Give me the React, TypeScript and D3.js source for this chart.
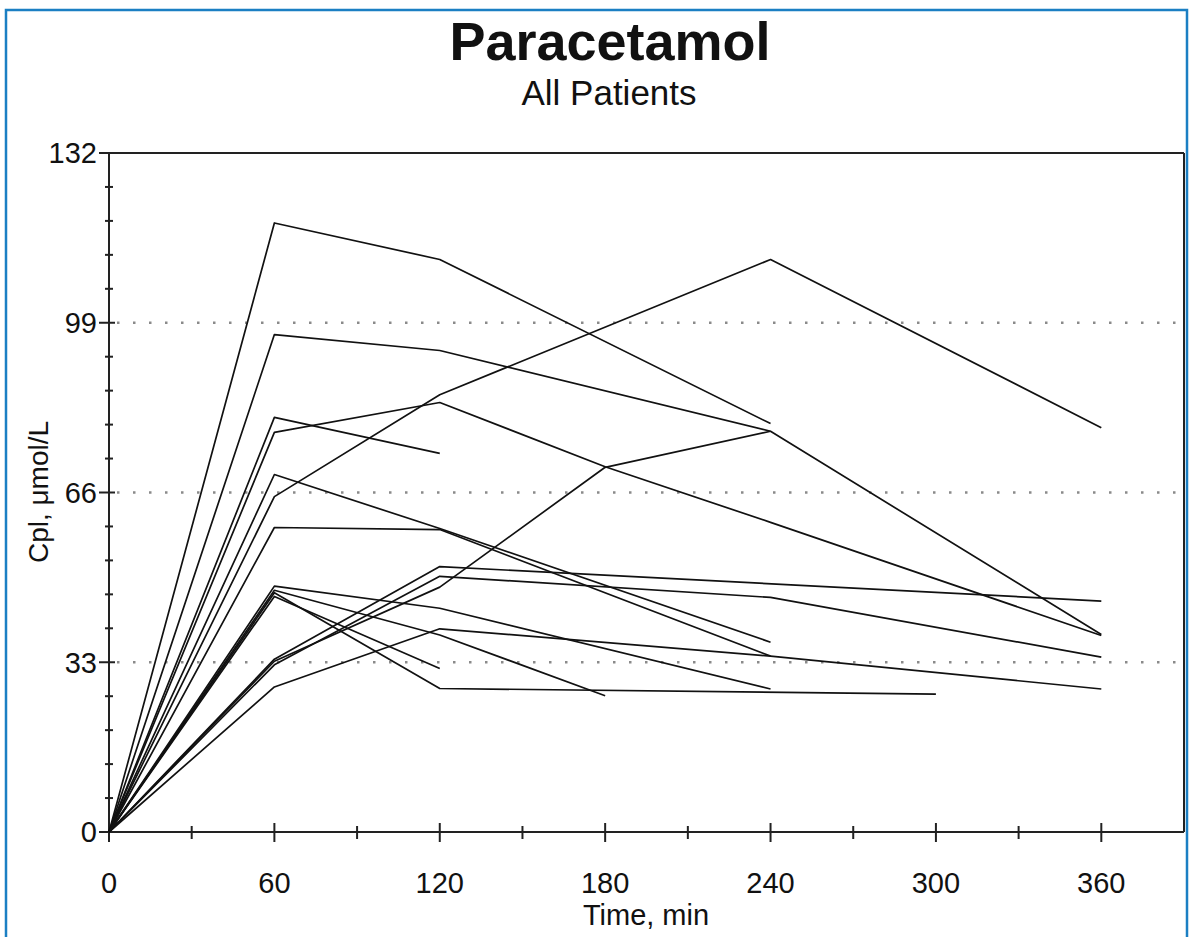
import React from "react";
import * as d3 from "d3";

const sampleTimes = [0, 60, 120, 180, 240, 300, 360];

// concentration per patient at sampleTimes (null = no sample)
const patientA = [0, 118.4, 111.3, null, 79.4, null, null];
const patientB = [0, 96.7, 93.6, null, 77.9, null, 38.4];
const patientC = [0, 80.6, 73.6, null, null, null, null];
const patientD = [0, 77.7, 83.5, 71.0, 60.2, null, 38.2];
const patientE = [0, 69.5, 59.0, null, 36.9, null, null];
const patientF = [0, 65.2, 85.0, null, 111.3, null, 78.6];
const patientG = [0, 59.2, 58.8, null, 34.2, null, null];
const patientH = [0, 33.6, 51.6, null, null, null, 44.9];
const patientI = [0, 32.5, 49.7, null, 45.6, null, 34.0];
const patientJ = [0, 33.2, 47.6, 70.9, 77.9, null, null];
const patientK = [0, 28.2, 39.5, null, 34.2, null, 27.8];
const patientL = [0, 45.8, 31.8, null, null, null, null];
const patientM = [0, 46.5, 27.9, null, null, 26.8, null];
const patientN = [0, 47.0, 38.3, 26.5, null, null, null];
const patientO = [0, 47.8, 43.5, null, 27.8, null, null];

const patients = [
  patientA, patientB, patientC, patientD, patientE, patientF, patientG, patientH,
  patientI, patientJ, patientK, patientL, patientM, patientN, patientO,
];

const xMajorTicks = [0, 60, 120, 180, 240, 300, 360];
const xMinorTicks = [30, 90, 150, 210, 270, 330];
const yMajorTicks = [0, 33, 66, 99, 132];
const yGridTicks = [33, 66, 99];

const titleText = "Paracetamol";
const subtitleText = "All Patients";
const xLabel = "Time, min";
const yLabel = "Cpl, \u03BCmol/L";

export default function App() {
  const W = 1189, H = 937;
  const left = 109, right = 1184, top = 153, bottom = 832;
  const x = d3.scaleLinear().domain([0, 390]).range([left, right]);
  const y = d3.scaleLinear().domain([0, 132]).range([bottom, top]);

  const yMinorTicks: number[] = [];
  for (let k = 1; k < 20; k++) if (k % 5 !== 0) yMinorTicks.push(+(k * 6.6).toFixed(1));

  const line = d3
    .line<[number, number]>()
    .x((d) => x(d[0]))
    .y((d) => y(d[1]));

  const font = "'Liberation Sans', Arial, Helvetica, sans-serif";

  return (
    <svg width={W} height={H} style={{ position: "absolute", left: 0, top: 0, background: "#fff" }} fontFamily={font}>
      <rect x={6} y={10} width={1181} height={945} fill="none" stroke="#1b7fc3" strokeWidth={2.5} />
      <text x={610} y={60} textAnchor="middle" fontSize={54} fontWeight="bold" fill="#111">{titleText}</text>
      <text x={609} y={105} textAnchor="middle" fontSize={35} fill="#111">{subtitleText}</text>

      {/* dotted grid */}
      {yGridTicks.map((t) => (
        <line key={"g" + t} x1={left + 8} x2={right} y1={y(t)} y2={y(t)} stroke="#8a8a8a" strokeWidth={2.5} strokeDasharray="2.5 13.5" />
      ))}

      {/* frame top and right */}
      <line x1={left} x2={right} y1={top} y2={top} stroke="#222" strokeWidth={2} />
      <line x1={right} x2={right} y1={top} y2={bottom} stroke="#222" strokeWidth={2} />

      {/* axes */}
      <line x1={left} x2={left} y1={top} y2={bottom} stroke="#222" strokeWidth={2} />
      <line x1={left} x2={right} y1={bottom} y2={bottom} stroke="#222" strokeWidth={2} />

      {yMajorTicks.map((t) => (
        <g key={"ym" + t}>
          <line x1={left - 10} x2={left + 6} y1={y(t)} y2={y(t)} stroke="#222" strokeWidth={2} />
          <text x={left - 12} y={y(t)} dy="0.36em" textAnchor="end" fontSize={29} fill="#111">{t}</text>
        </g>
      ))}
      {yMinorTicks.map((t) => (
        <line key={"yn" + t} x1={left - 4} x2={left + 4} y1={y(t)} y2={y(t)} stroke="#222" strokeWidth={2} />
      ))}
      {xMajorTicks.map((t) => (
        <g key={"xm" + t}>
          <line x1={x(t)} x2={x(t)} y1={bottom - 9} y2={bottom + 10} stroke="#222" strokeWidth={2} />
          <text x={x(t)} y={893} textAnchor="middle" fontSize={29} fill="#111">{t}</text>
        </g>
      ))}
      {xMinorTicks.map((t) => (
        <line key={"xn" + t} x1={x(t)} x2={x(t)} y1={bottom - 6} y2={bottom + 7} stroke="#222" strokeWidth={2} />
      ))}

      <text x={646} y={925} textAnchor="middle" fontSize={29} fill="#111">{xLabel}</text>
      <text transform={`translate(48,492) rotate(-90)`} textAnchor="middle" fontSize={28} fill="#111">{yLabel}</text>

      {/* patient curves */}
      {patients.map((vals, i) => {
        const pts = sampleTimes
          .map((t, j) => [t, vals[j]] as [number, number | null])
          .filter((p) => p[1] !== null) as [number, number][];
        return <path key={"p" + i} d={line(pts) || ""} fill="none" stroke="#111" strokeWidth={1.7} strokeLinejoin="round" />;
      })}
    </svg>
  );
}
